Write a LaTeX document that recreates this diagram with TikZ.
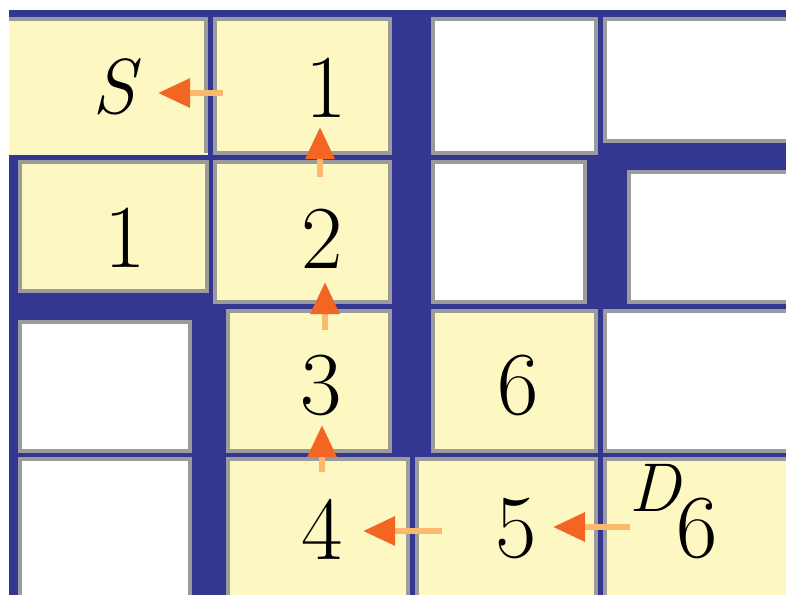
\documentclass[tikz,border=0pt]{standalone}
\usepackage{fontspec}
\usetikzlibrary{arrows.meta}
\definecolor{wall}{RGB}{51,55,145}
\definecolor{cellyellow}{RGB}{253,247,194}
\definecolor{edge}{RGB}{155,155,155}
\definecolor{headorange}{RGB}{242,101,34}
\definecolor{tailorange}{RGB}{251,185,110}
\begin{document}
\begin{tikzpicture}[x=1pt,y=-1pt,
  cell/.style={draw=edge,line width=4pt},
  num/.style={inner sep=0pt,font=\fontsize{90}{90}\selectfont},
  trace/.style={line width=6pt,tailorange,-{Triangle[length=32pt,width=28pt,color=headorange]}}]
\useasboundingbox (0,0) rectangle (786,594);
\clip (0,0) rectangle (786,594);
\fill[wall] (9,10) rectangle (800,600);
% open cells
\foreach \a/\b/\c/\d in {431/17/598/155, 603/17/800/143, 431/160/587/304, 627/170/800/304,
  18/320/192/453, 603/309/800/453, 18/457/192/600}
  \draw[cell,fill=white] (\a+2,\b+2) rectangle (\c-2,\d-2);
% cells on the way back
\foreach \a/\b/\c/\d in {213/17/392/155, 18/160/209/293, 213/160/392/304, 226/309/392/453,
  431/309/598/453, 226/457/410/600, 415/457/598/600, 603/457/800/600}
  \draw[cell,fill=cellyellow] (\a+2,\b+2) rectangle (\c-2,\d-2);
% start cell, open on the left
\fill[cellyellow] (9,17) rectangle (208,155);
\draw[cell] (9,19) -- (206,19) -- (206,153);

\node[num,font=\fontsize{78}{78}\selectfont\itshape] (s) at (114,87) {S};
\node[num] (one) at (326,88) {1};
\node[num] (oneb) at (125,238) {1};
\node[num] (two) at (322,239) {2};
\node[num] (three) at (321,385) {3};
\node[num] (sixa) at (518,385) {6};
\node[num] (four) at (322,529) {4};
\node[num] (five) at (516,529) {5};
\node[num] (sixb) at (697,528) {6};
\node[num,font=\fontsize{69}{69}\selectfont\itshape] (d) at (655,488) {D};

\coordinate (t1) at (223,93);  \coordinate (h1) at (158,93);
\coordinate (t2) at (320,177); \coordinate (h2) at (320,127);
\coordinate (t3) at (325,330); \coordinate (h3) at (325,282);
\coordinate (t4) at (322,472); \coordinate (h4) at (322,425);
\coordinate (t5) at (442,531); \coordinate (h5) at (363,531);
\coordinate (t6) at (630,527); \coordinate (h6) at (553,527);
\draw[trace] (t1) -- (h1);
\draw[trace] (t2) -- (h2);
\draw[trace] (t3) -- (h3);
\draw[trace] (t4) -- (h4);
\draw[trace] (t5) -- (h5);
\draw[trace] (t6) -- (h6);
\end{tikzpicture}
\end{document}
